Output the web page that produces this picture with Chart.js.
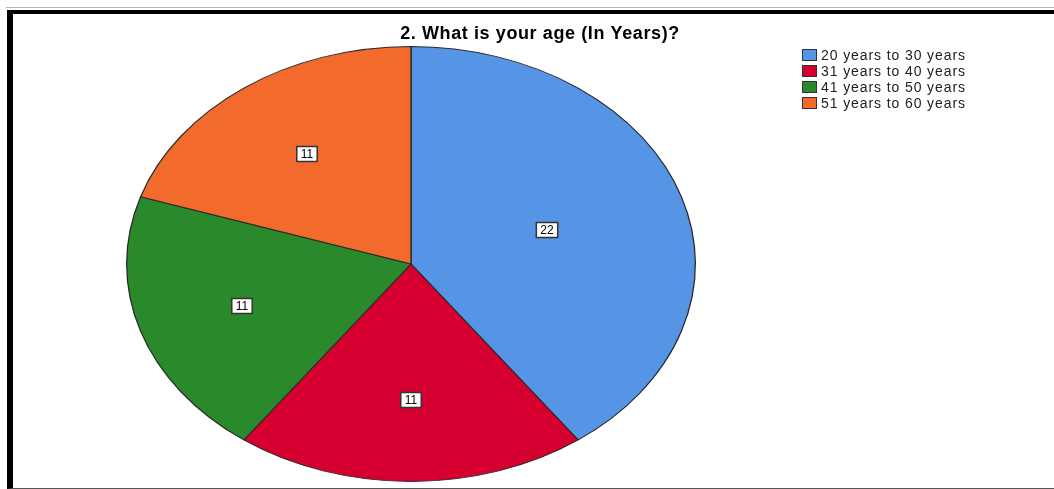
<!DOCTYPE html>
<html>
<head>
<meta charset="utf-8">
<script src="https://cdn.jsdelivr.net/npm/chart.js@4/dist/chart.umd.min.js"></script>
<style>
  html, body { margin: 0; padding: 0; background: #fff; }
  #wrap { position: relative; width: 1054px; height: 489px; overflow: hidden; }
  #topline { position: absolute; left: 6px; top: 7px; width: 1048px; height: 1px; background: #b5b5b5; }
  #frame { position: absolute; left: 7px; top: 10px; width: 1060px; height: 474px;
           border-top: 4px solid #000; border-left: 6px solid #000; border-bottom: 1px solid #555; }
  #chart { position: absolute; left: 0; top: 0; }
</style>
</head>
<body>
<div id="wrap">
  <div id="topline"></div>
  <div id="frame"></div>
  <canvas id="chart" width="1054" height="489"></canvas>
</div>
<script>
// age groups and respondent counts
const title = '2. What is your age (In Years)?';
const categories = ['20 years to 30 years', '31 years to 40 years', '41 years to 50 years', '51 years to 60 years'];
const counts = [22, 11, 11, 11];
const sliceColors = ['#5695e6', '#d5002f', '#2a892a', '#f26b2d'];

// pie is drawn as a circle then stretched sideways into an ellipse
const stretch = 285 / 218;

const ellipsePlugin = {
  id: 'ellipse',
  beforeDatasetsDraw(chart) {
    const arc = chart.getDatasetMeta(0).data[0];
    const ctx = chart.ctx;
    ctx.save();
    ctx.translate(arc.x, arc.y);
    ctx.scale(stretch, 1);
    ctx.translate(-arc.x, -arc.y);
  },
  afterDatasetsDraw(chart) {
    chart.ctx.restore();
  }
};

const decorPlugin = {
  id: 'decor',
  afterDraw(chart) {
    const ctx = chart.ctx;
    ctx.save();

    // title
    ctx.fillStyle = '#000';
    ctx.font = 'bold 18px "Liberation Sans", Arial, sans-serif';
    ctx.textAlign = 'center';
    ctx.textBaseline = 'middle';
    ctx.letterSpacing = '0.6px';
    ctx.fillText(title, 540, 34);

    // legend
    ctx.font = '14px "Liberation Sans", Arial, sans-serif';
    ctx.textAlign = 'left';
    ctx.letterSpacing = '0.9px';
    categories.forEach((cat, i) => {
      const y = 55 + i * 16;
      ctx.fillStyle = sliceColors[i];
      ctx.fillRect(802, y - 6, 15, 12);
      ctx.strokeStyle = '#333';
      ctx.lineWidth = 1;
      ctx.strokeRect(802.5, y - 5.5, 14, 11);
      ctx.fillStyle = '#222';
      ctx.fillText(cat, 821, y + 1);
    });
    ctx.letterSpacing = '0px';

    // value labels at each slice's centroid
    const meta = chart.getDatasetMeta(0);
    ctx.font = '12px "Liberation Sans", Arial, sans-serif';
    ctx.textAlign = 'center';
    meta.data.forEach((arc, i) => {
      const mid = (arc.startAngle + arc.endAngle) / 2;
      const half = (arc.endAngle - arc.startAngle) / 2;
      const r = arc.outerRadius * (2 / 3) * Math.sin(half) / half;
      const x = Math.round(arc.x + Math.cos(mid) * r * stretch);
      const y = Math.round(arc.y + Math.sin(mid) * r);
      const txt = String(counts[i]);
      const w = ctx.measureText(txt).width + 8;
      const h = 15;
      ctx.fillStyle = '#fff';
      ctx.fillRect(x - w / 2, y - h / 2, w, h);
      ctx.strokeStyle = '#333';
      ctx.lineWidth = 1.5;
      ctx.strokeRect(x - w / 2, y - h / 2, w, h);
      ctx.fillStyle = '#000';
      ctx.fillText(txt, x, y + 1);
    });
    ctx.restore();
  }
};

const ctx = document.getElementById('chart').getContext('2d');
const myChart = new Chart(ctx, {
  type: 'pie',
  data: {
    labels: categories,
    datasets: [{
      data: counts,
      backgroundColor: sliceColors,
      borderColor: '#2a2a2a',
      borderWidth: 1,
      clip: false
    }]
  },
  options: {
    responsive: false,
    animation: false,
    events: [],
    layout: { padding: { left: 193, top: 46, right: 425, bottom: 7 } },
    plugins: {
      legend: { display: false },
      title: { display: false },
      tooltip: { enabled: false }
    }
  },
  plugins: [ellipsePlugin, decorPlugin]
});
</script>
</body>
</html>
